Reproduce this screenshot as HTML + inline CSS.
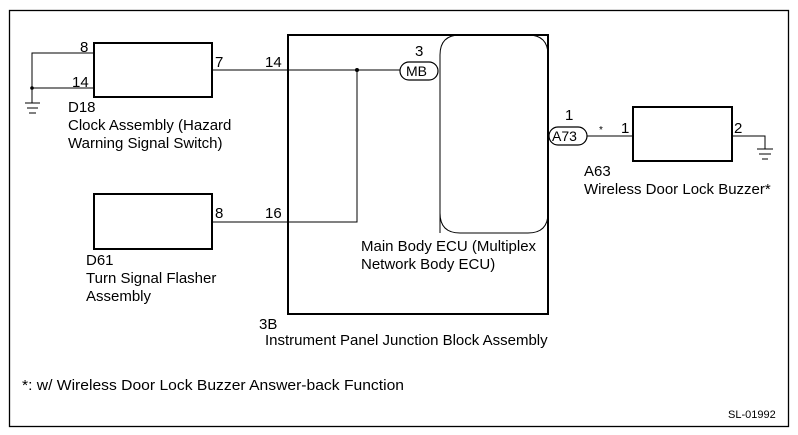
<!DOCTYPE html>
<html><head><meta charset="utf-8"><style>
html,body{margin:0;padding:0;background:#fff;}
svg{display:block;}
text{font-family:"Liberation Sans",sans-serif;font-size:15px;fill:#000;}
</style></head><body>
<svg width="798" height="435" viewBox="0 0 798 435" xmlns="http://www.w3.org/2000/svg">
<g fill="none" stroke="#000">
<rect x="9.5" y="10.5" width="779" height="416" stroke-width="1.3"/>
<rect x="94" y="43" width="118" height="54" stroke-width="2"/>
<polyline points="94,53 32,53 32,88 94,88" stroke-width="1"/>
<line x1="32" y1="88" x2="32" y2="103" stroke-width="1"/>
<line x1="25" y1="103" x2="40" y2="103"/><line x1="27" y1="108" x2="38" y2="108"/><line x1="29" y1="113" x2="36" y2="113"/>
<line x1="212" y1="70" x2="400" y2="70"/>
<polyline points="357,70 357,222 212,222"/>
<rect x="288" y="35" width="260" height="279" stroke-width="2"/>
<path d="M440,233 L440,55 Q440,35 460,35 L528,35 Q548,35 548,55 L548,213 Q548,233 528,233 L460,233 Q440,233 440,213" stroke-width="1"/>
<rect x="400" y="62" width="38" height="18" rx="9" stroke-width="1.2" fill="#fff"/>
<rect x="94" y="194" width="118" height="55" stroke-width="2"/>
<rect x="549" y="127" width="38" height="18" rx="9" stroke-width="1.2" fill="#fff"/>
<line x1="587" y1="136" x2="633" y2="136"/>
<rect x="633" y="107" width="99" height="54" stroke-width="2"/>
<polyline points="732,136 765,136 765,149"/>
<line x1="757" y1="149" x2="773" y2="149"/><line x1="759" y1="154" x2="771" y2="154"/><line x1="762" y1="159" x2="768" y2="159"/>
</g>
<circle cx="32" cy="88" r="1.8"/><circle cx="357" cy="70" r="2"/>
<text x="80" y="52">8</text><text x="72" y="87">14</text>
<text x="215" y="67">7</text><text x="265" y="67">14</text>
<text x="68" y="112">D18</text>
<text x="68" y="130">Clock Assembly (Hazard</text>
<text x="68" y="148">Warning Signal Switch)</text>
<text x="415" y="56">3</text><text x="406" y="76" style="font-size:14px">MB</text>
<text x="215" y="218">8</text><text x="265" y="218">16</text>
<text x="86" y="265">D61</text>
<text x="86" y="283">Turn Signal Flasher</text>
<text x="86" y="301">Assembly</text>
<text x="361" y="251">Main Body ECU (Multiplex</text>
<text x="361" y="269">Network Body ECU)</text>
<text x="565" y="120">1</text><text x="552" y="141" style="font-size:14px">A73</text>
<text x="599" y="133" style="font-size:10px">*</text><text x="621" y="133">1</text>
<text x="734" y="133">2</text>
<text x="584" y="176">A63</text>
<text x="584" y="194">Wireless Door Lock Buzzer*</text>
<text x="259" y="329">3B</text>
<text x="265" y="345">Instrument Panel Junction Block Assembly</text>
<text x="22" y="390" textLength="382" lengthAdjust="spacingAndGlyphs">*: w/ Wireless Door Lock Buzzer Answer-back Function</text>
<text x="728" y="418" style="font-size:11px">SL-01992</text>
</svg>
</body></html>
